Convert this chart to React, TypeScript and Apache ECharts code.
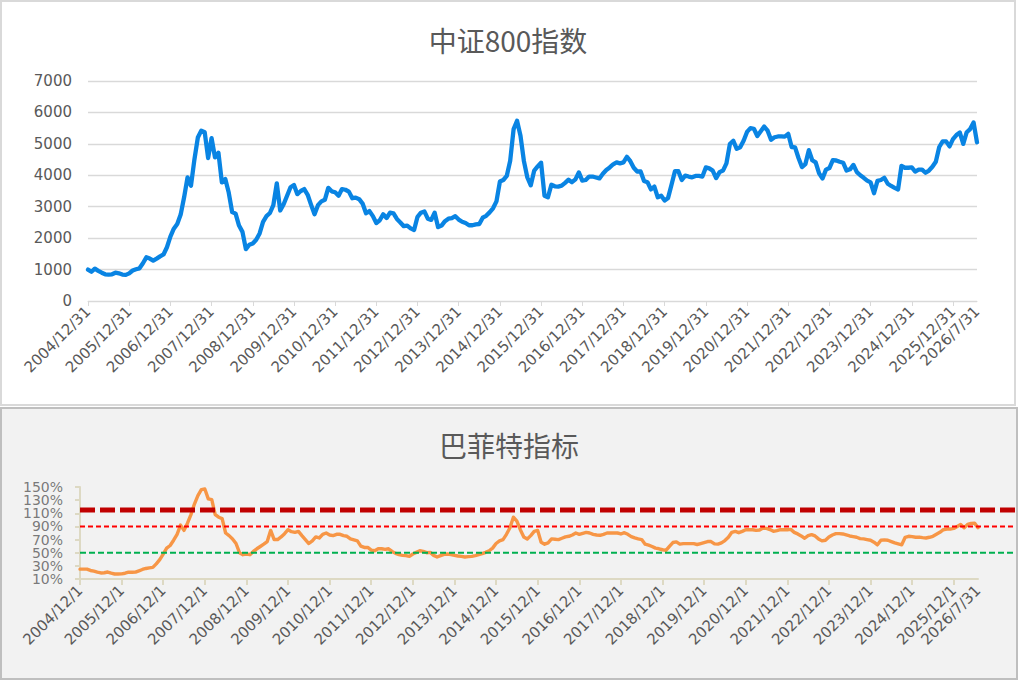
import React, { useEffect, useRef } from 'react'
import * as echarts from 'echarts'

// 中证800指数, month-end values, 2004/12 .. 2026/7
const csi800 = [
  1000,
  930, 1030, 960, 900, 850, 840, 850, 900, 880, 840, 830, 880, // 2005
  970, 1010, 1040, 1200, 1390, 1350, 1285, 1350, 1420, 1480, 1710, 2050, // 2006
  2300, 2450, 2750, 3300, 3935, 3670, 4500, 5200, 5420, 5370, 4550, 5180, // 2007
  4570, 4720, 3775, 3880, 3450, 2830, 2780, 2400, 2200, 1650, 1790, 1830, // 2008
  1950, 2150, 2520, 2700, 2800, 3050, 3745, 2880, 3080, 3350, 3620, 3690, // 2009
  3400, 3500, 3560, 3380, 3060, 2760, 3050, 3170, 3220, 3600, 3490, 3460, // 2010
  3350, 3560, 3540, 3480, 3270, 3290, 3240, 3100, 2790, 2860, 2700, 2480, // 2011
  2570, 2760, 2640, 2810, 2790, 2610, 2500, 2380, 2400, 2310, 2260, 2680, // 2012
  2810, 2850, 2620, 2580, 2810, 2350, 2400, 2540, 2620, 2640, 2700, 2590, // 2013
  2520, 2480, 2410, 2410, 2440, 2450, 2650, 2710, 2820, 2950, 3170, 3800, // 2014
  3850, 3980, 4460, 5470, 5735, 5260, 4450, 3930, 3680, 4150, 4280, 4400, // 2015
  3350, 3300, 3700, 3650, 3640, 3670, 3760, 3860, 3780, 3870, 4090, 3830, // 2016
  3850, 3960, 3960, 3930, 3900, 4050, 4170, 4250, 4350, 4410, 4380, 4410, // 2017
  4590, 4450, 4240, 4120, 4120, 3820, 3780, 3550, 3640, 3300, 3350, 3200, // 2018
  3280, 3700, 4130, 4130, 3850, 3990, 3960, 3935, 3980, 3980, 3960, 4250, // 2019
  4220, 4150, 3910, 4100, 4150, 4380, 4995, 5100, 4840, 4890, 5100, 5380, // 2020
  5500, 5480, 5250, 5400, 5550, 5420, 5130, 5210, 5235, 5240, 5230, 5320, // 2021
  4900, 4890, 4550, 4260, 4355, 4800, 4480, 4410, 4060, 3900, 4180, 4230, // 2022
  4480, 4470, 4430, 4400, 4150, 4190, 4330, 4100, 4000, 3920, 3830, 3775, // 2023
  3430, 3820, 3850, 3920, 3730, 3660, 3600, 3550, 4300, 4240, 4240, 4250, // 2024
  4120, 4180, 4180, 4080, 4150, 4270, 4430, 4900, 5080, 5080, 4920, 5150, // 2025
  5280, 5360, 5000, 5370, 5470, 5680, 5050, // 2026
]

// 巴菲特指标 (%), 2004/12 .. 2026/7
const buffett = [
  25,
  25, 25, 23, 22, 20.5, 19.2, 19.5, 20.6, 19, 17.6, 17.6, 17.8, // 2005
  18.8, 20.4, 20.3, 20.5, 22.5, 24.5, 26, 27, 27.6, 33, 39.4, 48, // 2006
  57, 61, 69, 78, 92, 84, 95, 108, 124, 137, 146, 147, // 2007
  132, 130.7, 108, 104, 102, 80, 76, 71, 64, 50, 47, 48, // 2008
  47, 52, 56, 59.5, 63, 67, 84, 70, 70, 74, 79, 85, // 2009
  82, 81, 82.5, 76, 70, 64, 68, 74, 72.4, 78, 80, 77, // 2010
  76, 78, 78, 76, 75, 71, 69.5, 68, 60, 58, 58, 54, // 2011
  53, 56, 56, 55, 56, 52, 49, 47, 46, 45.5, 44.5, 48, // 2012
  50.5, 53, 52, 50, 50.5, 46, 43.5, 45.5, 47.5, 48, 47, 46, // 2013
  45, 44.5, 43.5, 44, 44.5, 45.5, 47, 48.5, 50.6, 53, 57, 64, // 2014
  68, 70, 78, 88, 104, 98, 85, 74, 71, 76, 82.5, 84, // 2015
  66, 63, 65, 71, 70.5, 70, 72, 74, 75, 77, 80, 78, // 2016
  79.5, 81, 80, 78, 77, 76.5, 78, 80, 80, 80, 80, 78.5, // 2017
  80.5, 78, 74.5, 72.5, 71, 70, 63, 61.5, 59.5, 57, 56, 54.5, // 2018
  53.5, 59.7, 65.5, 66.5, 63, 63.8, 63.8, 63.8, 63.8, 62.5, 64, 65.5, // 2019
  67, 67, 63.5, 63, 65, 68.5, 73.5, 81, 82.5, 80.5, 82.5, 85, // 2020
  85, 85, 84, 84.5, 87.5, 87, 85.2, 82.5, 83.5, 85, 85, 85, // 2021
  85.5, 81, 78.6, 75.5, 72, 76, 77.5, 75.5, 71, 68, 69, 74, // 2022
  77, 79, 79, 78.5, 77, 75.5, 74.5, 73.5, 71.5, 71, 70, 69, // 2023
  66, 62, 69, 69.5, 69, 67, 65, 63.5, 62, 73.5, 75, 74.5, // 2024
  73.5, 73.8, 73, 72.4, 73.5, 75, 78, 81, 85, 86, 86, 87, // 2025
  90, 93, 88, 93, 94.5, 95, 88, // 2026
]

// y tick labels of the Buffett panel (%)
const buffettTicks = [10, 30, 50, 70, 90, 110, 130, 150]

// threshold lines on the Buffett panel (%)
const thresholds = [115, 90, 50]
const thresholdStyles = [
  { color: '#c00000', width: 5, type: [15, 5] },
  { color: '#ff0000', width: 2, type: [5, 3] },
  { color: '#00b050', width: 2, type: [6, 3] },
]

// month list 2004/12 .. 2026/7
const months: [number, number][] = []
for (let y = 2004, m = 12; y < 2026 || (y === 2026 && m <= 7); ) {
  months.push([y, m])
  m++
  if (m > 12) { m = 1; y++ }
}
const lastIdx = months.length - 1
const topDates = months.map(([y, m]) => `${y}/${m}/${new Date(y, m, 0).getDate()}`)
const bottomDates = months.map(([y, m], i) => (i === lastIdx ? topDates[i] : `${y}/${m}/1`))

const showTick = (i: number) => i % 12 === 0
const showLabel = (i: number) => i % 12 === 0 || i === lastIdx
const labelColor = (_v: any, i: number) => (i === lastIdx ? '#262626' : '#595959')

const FONT = 'DejaVu Sans'
const CJK = 'Noto Sans CJK SC'

function TopChart() {
  const ref = useRef<HTMLDivElement | null>(null)
  useEffect(() => {
    if (!ref.current) return
    const chart = echarts.init(ref.current, undefined, { renderer: 'svg' })
    chart.setOption({
      animation: false,
      title: {
        text: '中证800指数',
        left: 'center',
        top: 19,
        textStyle: { fontFamily: CJK, fontSize: 28, fontWeight: 'normal', color: '#595959' },
      },
      grid: { left: 86, right: 37, top: 79, bottom: 103 },
      xAxis: {
        type: 'category',
        data: topDates,
        boundaryGap: false,
        axisLine: { lineStyle: { color: '#d9d9d9', width: 1 } },
        axisTick: { interval: showTick, length: 5, lineStyle: { color: '#d9d9d9' } },
        axisLabel: {
          interval: showLabel,
          rotate: 45,
          margin: 8,
          fontFamily: FONT,
          fontSize: 15,
          color: labelColor,
        },
      },
      yAxis: {
        type: 'value',
        min: 0,
        max: 7000,
        interval: 1000,
        axisLine: { show: false },
        axisTick: { show: false },
        axisLabel: {
          margin: 16,
          fontFamily: FONT,
          fontSize: 15,
          color: '#595959',
          formatter: (v: number) => String(v),
        },
        splitLine: { lineStyle: { color: '#d9d9d9', width: 1.3 } },
      },
      series: [
        {
          type: 'line',
          data: csi800,
          symbol: 'none',
          lineStyle: { color: '#0984e3', width: 4.3, join: 'round', cap: 'round' },
        },
      ],
    })
    return () => chart.dispose()
  }, [])
  return <div ref={ref} style={{ width: '100%', height: '100%' }} />
}

function BottomChart() {
  const ref = useRef<HTMLDivElement | null>(null)
  useEffect(() => {
    if (!ref.current) return
    const chart = echarts.init(ref.current, undefined, { renderer: 'svg' })
    chart.setOption({
      animation: false,
      title: {
        text: '巴菲特指标',
        left: 'center',
        top: 17,
        textStyle: { fontFamily: CJK, fontSize: 28, fontWeight: 'normal', color: '#595959' },
      },
      grid: [
        { left: 78, right: 38, top: 78, bottom: 99 },
        { left: 78, right: 0, top: 78, bottom: 99 },
      ],
      xAxis: [
        {
          type: 'category',
          gridIndex: 0,
          data: bottomDates,
          boundaryGap: false,
          axisLine: { lineStyle: { color: '#ddd9c3', width: 2 } },
          axisTick: { interval: showTick, length: 6, lineStyle: { color: '#ddd9c3', width: 2 } },
          axisLabel: {
            interval: showLabel,
            rotate: 45,
            margin: 9,
            fontFamily: FONT,
            fontSize: 15,
            color: labelColor,
          },
        },
        { type: 'value', gridIndex: 1, min: 0, max: 1, show: false },
      ],
      yAxis: [
        {
          type: 'value',
          gridIndex: 0,
          min: 10,
          max: 150,
          interval: 20,
          axisLine: { show: true, lineStyle: { color: '#ddd9c3', width: 2 } },
          axisTick: { show: true, length: 5, lineStyle: { color: '#ddd9c3', width: 2 } },
          // labels are drawn by the tick-label series below so none is dropped
          axisLabel: { show: false },
          splitLine: { show: false },
        },
        { type: 'value', gridIndex: 1, min: 10, max: 150, show: false },
      ],
      series: [
        {
          type: 'line',
          xAxisIndex: 0,
          yAxisIndex: 0,
          data: buffett,
          symbol: 'none',
          lineStyle: { color: '#f79646', width: 3.4, join: 'round', cap: 'round' },
          z: 2,
        },
        {
          type: 'scatter',
          xAxisIndex: 0,
          yAxisIndex: 0,
          data: buffettTicks.map((v) => [0, v]),
          symbolSize: 0,
          silent: true,
          clip: false,
          label: {
            show: true,
            position: 'left',
            distance: 17,
            fontFamily: FONT,
            fontSize: 14,
            color: '#595959',
            formatter: (p: any) => `${p.value[1]}%`,
          },
        },
        ...thresholds.map((t, i) => ({
          type: 'line',
          xAxisIndex: 1,
          yAxisIndex: 1,
          data: [
            [0, t],
            [1, t],
          ],
          symbol: 'none',
          lineStyle: thresholdStyles[i],
          z: 3,
        })),
      ],
    })
    return () => chart.dispose()
  }, [])
  return <div ref={ref} style={{ width: '100%', height: '100%' }} />
}

export default function App() {
  return (
    <div style={{ position: 'absolute', left: 0, top: 0, width: 1018, height: 680, background: '#fff' }}>
      <div
        style={{
          position: 'absolute',
          left: 0,
          top: 0,
          width: 1016,
          height: 406,
          boxSizing: 'border-box',
          border: '2px solid #d9d9d9',
          background: '#ffffff',
        }}
      >
        <TopChart />
      </div>
      <div
        style={{
          position: 'absolute',
          left: 0,
          top: 407,
          width: 1018,
          height: 273,
          boxSizing: 'border-box',
          border: '2px solid #bfbfbf',
          background: '#f2f2f2',
        }}
      >
        <BottomChart />
      </div>
    </div>
  )
}
